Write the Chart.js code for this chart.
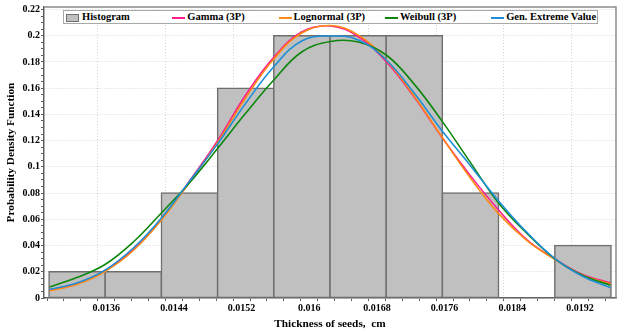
<!DOCTYPE html>
<html>
<head>
<meta charset="utf-8">
<script src="https://cdn.jsdelivr.net/npm/chart.js@4.4.1/dist/chart.umd.min.js"></script>
<style>
    html, body { margin: 0; padding: 0; background: #fff; }
    #wrap { position: relative; width: 624px; height: 334px; }
    #chart { position: absolute; left: 0; top: 0; }
    #legend {
        position: absolute; left: 63px; top: 10px; width: 535px; height: 14px;
        box-sizing: border-box; border: 1px solid #a8a8a8; background: #fff;
        font: bold 10.5px 'Liberation Serif', serif; color: #000;
    }
    #legend .item { position: absolute; top: 0; height: 12px; line-height: 12px; white-space: nowrap; }
    #legend .sw { display: inline-block; vertical-align: middle; margin-right: 2px; }
</style>
</head>
<body>
<div id="wrap">
    <canvas id="chart" width="624" height="334"></canvas>
    <div id="legend"></div>
</div>
<script>
// Histogram bins (centres) and relative frequencies
const binCenters = [0.013255, 0.013919, 0.014584, 0.015248, 0.015913, 0.016577, 0.017241, 0.017906, 0.018570, 0.019235];
const histValues = [0.02, 0.02, 0.08, 0.16, 0.2, 0.2, 0.2, 0.08, 0, 0.04];

// Fitted density curves
const curveX = [0.01293, 0.01326, 0.01359, 0.01393, 0.01426, 0.01459, 0.01492, 0.01525, 0.01558, 0.01591, 0.01625,
                0.01658, 0.01691, 0.01724, 0.01757, 0.0179, 0.01823, 0.01857, 0.0189, 0.01923, 0.01956];
const gammaY = [0.0059, 0.0112, 0.0211, 0.0375, 0.0608, 0.0898, 0.1204, 0.155, 0.1835, 0.2028, 0.2074,
                0.1992, 0.1802, 0.1532, 0.1224, 0.0937, 0.0677, 0.0446, 0.0299, 0.0179, 0.0115];
const lognormalY = [0.0055, 0.0105, 0.0204, 0.0368, 0.0601, 0.0887, 0.1189, 0.1528, 0.1822, 0.2021, 0.2078,
                    0.2005, 0.1815, 0.154, 0.1227, 0.0919, 0.0649, 0.044, 0.0295, 0.0173, 0.0107];
const weibullY = [0.0084, 0.0158, 0.0257, 0.0433, 0.0654, 0.0883, 0.1143, 0.141, 0.1662, 0.1876, 0.1956,
                  0.1952, 0.1853, 0.1631, 0.1349, 0.1038, 0.0731, 0.0494, 0.0301, 0.0173, 0.0097];
const gevY = [0.0066, 0.0116, 0.0215, 0.0387, 0.0616, 0.0895, 0.1179, 0.1486, 0.1763, 0.196, 0.1998,
              0.1967, 0.1815, 0.1563, 0.1275, 0.1013, 0.0746, 0.0502, 0.0303, 0.0166, 0.0079];

// Axis ticks
const xTickValues = [0.0136, 0.0144, 0.0152, 0.016, 0.0168, 0.0176, 0.0184, 0.0192];
const xTickLabels = ['0.0136', '0.0144', '0.0152', '0.016', '0.0168', '0.0176', '0.0184', '0.0192'];
const yTickValues = [0, 0.02, 0.04, 0.06, 0.08, 0.1, 0.12, 0.14, 0.16, 0.18, 0.2, 0.22];
const yTickLabels = ['0', '0.02', '0.04', '0.06', '0.08', '0.1', '0.12', '0.14', '0.16', '0.18', '0.2', '0.22'];

const tickFont = { family: "'Liberation Serif', serif", size: 10, weight: 'bold' };
const titleFont = { family: "'Liberation Serif', serif", size: 11.3, weight: 'bold' };

function findTick(values, v) {
    for (let i = 0; i < values.length; i++) {
        if (Math.abs(values[i] - v) < 1e-9) return i;
    }
    return -1;
}

// minor ticks between the labelled ones
function minorTicks(start, end, step) {
    const out = [];
    for (let v = start; v <= end + step / 10; v += step) {
        out.push({ value: Math.round(v * 1e6) / 1e6 });
    }
    return out;
}

function toPoints(ys) {
    return curveX.map((x, i) => ({ x: x, y: ys[i] }));
}

const lineStyle = { type: 'line', borderWidth: 1.6, pointRadius: 0, tension: 0.4, fill: false };

const datasets = [
    {
        type: 'bar',
        label: 'Histogram',
        data: binCenters.map((x, i) => ({ x: x, y: histValues[i] })),
        backgroundColor: '#c0c0c0',
        borderColor: '#6e6e6e',
        borderWidth: 1.5,
        borderSkipped: false,
        inflateAmount: 0.75,
        barThickness: 'flex',
        barPercentage: 1,
        categoryPercentage: 1,
        order: 10
    },
    Object.assign({ label: 'Gamma (3P)', data: toPoints(gammaY), borderColor: '#ff1c8d', order: 4 }, lineStyle),
    Object.assign({ label: 'Lognormal (3P)', data: toPoints(lognormalY), borderColor: '#ff8a14', order: 3 }, lineStyle),
    Object.assign({ label: 'Weibull (3P)', data: toPoints(weibullY), borderColor: '#0d870d', order: 2 }, lineStyle),
    Object.assign({ label: 'Gen. Extreme Value', data: toPoints(gevY), borderColor: '#1e8ed6', order: 1 }, lineStyle)
];

// top and right edge of the plot frame
const frame = {
    id: 'frame',
    afterDraw(chart) {
        const a = chart.chartArea;
        const ctx = chart.ctx;
        ctx.save();
        ctx.strokeStyle = '#8c8c8c';
        ctx.lineWidth = 1.5;
        ctx.beginPath();
        ctx.moveTo(a.left, a.top);
        ctx.lineTo(a.right, a.top);
        ctx.lineTo(a.right, a.bottom);
        ctx.stroke();
        ctx.restore();
    }
};

new Chart(document.getElementById('chart'), {
    type: 'bar',
    data: { datasets: datasets },
    options: {
        responsive: false,
        animation: false,
        layout: { padding: { top: 7, right: 8, left: 0, bottom: 0 } },
        plugins: {
            legend: { display: false },
            tooltip: { enabled: false }
        },
        scales: {
            x: {
                type: 'linear',
                offset: false,
                min: 0.012864,
                max: 0.019626,
                afterFit: function(scale) { scale.height = 36; },
                afterBuildTicks: function(scale) { scale.ticks = minorTicks(0.013, 0.0196, 0.0002); },
                ticks: {
                    autoSkip: false,
                    maxRotation: 0,
                    padding: 1,
                    color: '#000',
                    font: tickFont,
                    callback: function(value) {
                        const i = findTick(xTickValues, value);
                        return i >= 0 ? xTickLabels[i] : '';
                    }
                },
                grid: {
                    color: function(ctx) {
                        return ctx.tick && findTick(xTickValues, ctx.tick.value) >= 0 ? '#d4d4d4' : 'transparent';
                    },
                    tickColor: '#606060',
                    tickLength: 3,
                    lineWidth: 1
                },
                border: { color: '#606060', width: 1.5, dash: [1, 2] },
                title: {
                    display: true,
                    text: 'Thickness of seeds,  cm',
                    color: '#000',
                    font: titleFont,
                    padding: { top: 0, bottom: 3 }
                }
            },
            y: {
                min: 0,
                max: 0.2219,
                afterFit: function(scale) { scale.width = 44; },
                afterBuildTicks: function(scale) { scale.ticks = minorTicks(0, 0.22, 0.005); },
                ticks: {
                    autoSkip: false,
                    padding: 1,
                    color: '#000',
                    font: tickFont,
                    callback: function(value) {
                        const i = findTick(yTickValues, value);
                        return i >= 0 ? yTickLabels[i] : '';
                    }
                },
                grid: {
                    color: function(ctx) {
                        return ctx.tick && findTick(yTickValues, ctx.tick.value) >= 0 ? '#d4d4d4' : 'transparent';
                    },
                    tickColor: '#606060',
                    tickLength: 3,
                    lineWidth: 1
                },
                border: { color: '#606060', width: 1.5, dash: [1, 2] },
                title: {
                    display: true,
                    text: 'Probability Density Function',
                    color: '#000',
                    font: titleFont,
                    padding: { top: 4.5, bottom: 0 }
                }
            }
        }
    },
    plugins: [frame]
});

// legend laid out in even columns like the original
const legend = document.getElementById('legend');
datasets.forEach(function(ds, i) {
    const item = document.createElement('div');
    item.className = 'item';
    item.style.left = (2 + i * 106.3) + 'px';
    const sw = document.createElement('span');
    sw.className = 'sw';
    if (ds.type === 'bar') {
        sw.style.width = '11px';
        sw.style.height = '6px';
        sw.style.background = ds.backgroundColor;
        sw.style.border = '1.5px solid ' + ds.borderColor;
        sw.style.marginRight = '3px';
    } else {
        sw.style.width = '13px';
        sw.style.height = '2px';
        sw.style.background = ds.borderColor;
    }
    item.appendChild(sw);
    item.appendChild(document.createTextNode(ds.label));
    legend.appendChild(item);
});
</script>
</body>
</html>
